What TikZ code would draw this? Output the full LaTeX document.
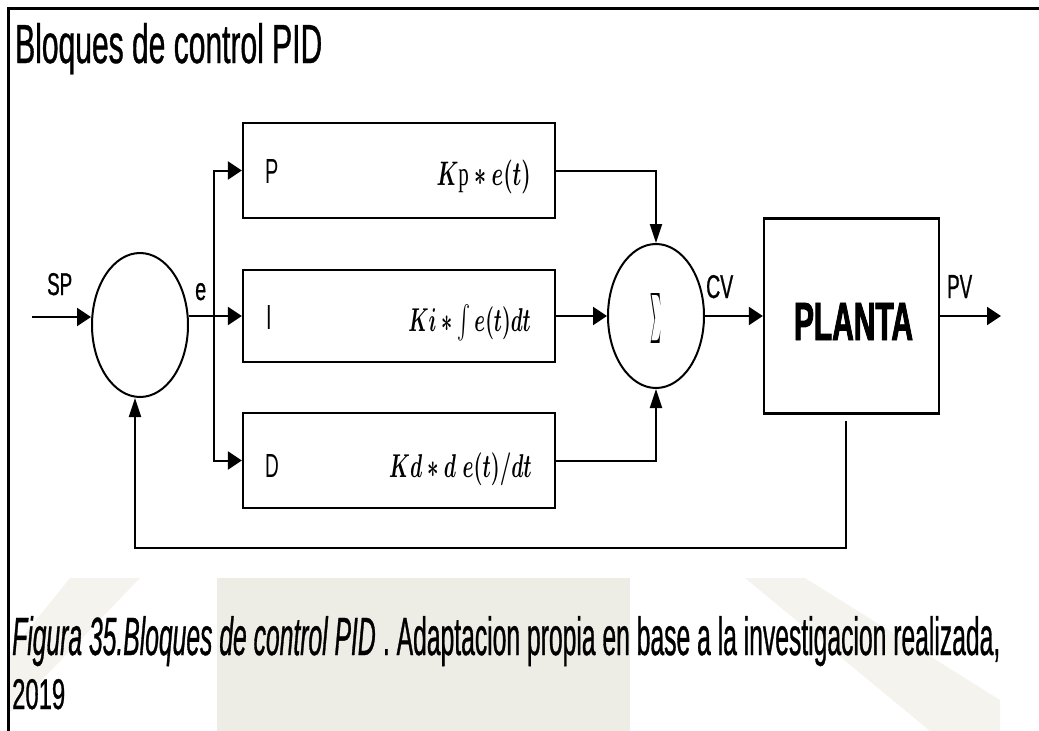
\documentclass[tikz,border=0pt]{standalone}
\usepackage{fontspec}
\setmainfont[FakeStretch=0.57,FakeBold=0.7]{Liberation Sans}
\newfontfamily\thinfont[FakeStretch=0.57]{Liberation Sans}
\newfontfamily\plantafont[UprightFont=* Bold,FakeStretch=0.55,FakeBold=1.6]{Liberation Sans}
\newfontfamily\serifp{Liberation Serif}
\usetikzlibrary{shapes.geometric,arrows.meta}
\definecolor{wm}{RGB}{238,237,229}
\definecolor{wmlight}{RGB}{244,243,238}
\begin{document}
\begin{tikzpicture}[x=1pt,y=-1pt,
  box/.style={draw,line width=2.2pt,minimum width=312pt,inner sep=0pt},
  ell/.style={draw,ellipse,line width=2pt,minimum width=96pt,minimum height=144pt,inner sep=0pt},
  conn/.style={line width=2pt},
  harrow/.style={conn,-{Triangle[length=14pt,width=18pt]}},
  varrow/.style={conn,-{Triangle[length=19pt,width=12pt]}},
  lbl/.style={inner sep=0pt},
  mlbl/.style={inner sep=0pt},
]
\useasboundingbox (0,0) rectangle (1039,731);
% faint watermark in the caption band
\fill[wmlight] (8,655) -- (70,578) -- (140,578) -- (8,715) -- cycle;
\fill[wm] (217,578) rectangle (630,731);
\fill[wmlight] (745,578) -- (805,578) -- (1000,700) -- (1000,731) -- (930,731) -- cycle;
% frame lines
\draw[line width=3pt] (8,731) -- (8,8.5) -- (1039,8.5);
% title
\node[lbl,anchor=base west] (title) at (15,63) {\resizebox{307pt}{40pt}{Bloques de control PID}};
% blocks
\node[ell] (lc) at (140,325) {};
\node[ell] (sum) at (656,316) {};
\node[box,minimum height=95pt] (pbox) at (399,170.5) {};
\node[box,minimum height=92pt] (ibox) at (399,316) {};
\node[box,minimum height=95pt] (dbox) at (399,460.5) {};
\node[box,minimum width=175pt,minimum height=195pt] (planta) at (851.5,316) {};
% texts in blocks
\node[lbl,anchor=base west] (pl) at (265,183) {\resizebox{!}{24pt}{\thinfont P}};
\node[lbl,anchor=base west] (il) at (266,329) {\resizebox{!}{24pt}{\thinfont I}};
\node[lbl,anchor=base west] (dl) at (265,477) {\resizebox{!}{23pt}{\thinfont D}};
\node[mlbl,anchor=base east] (pm) at (531,185) {\scalebox{2.1}[3.4]{\boldmath$K\hbox{\serifp p}\ast e(t)$}};
\node[mlbl,anchor=base east] (im) at (531,331) {\scalebox{1.95}[3.3]{\boldmath$Ki\ast\int e(t)dt$}};
\node[mlbl,anchor=base east] (dm) at (532,477) {\scalebox{2.0}[3.3]{\boldmath$Kd\ast d\;e(t)/dt$}};
\node[mlbl] (sigma) at (656,318) {\resizebox*{11pt}{50pt}{$\sum$}};
\node[lbl,anchor=base] (pt) at (853.5,340) {\resizebox{119pt}{37pt}{\plantafont PLANTA}};
% signal labels
\node[lbl,anchor=base west] (spl) at (47,295) {\resizebox{25pt}{22pt}{SP}};
\node[lbl,anchor=base west] (el) at (195,300) {\resizebox{11pt}{17pt}{e}};
\node[lbl,anchor=base west] (cvl) at (706,298) {\resizebox{27pt}{23pt}{CV}};
\node[lbl,anchor=base west] (pvl) at (947,298) {\resizebox{25pt}{23pt}{PV}};
% connectors
\coordinate (spin) at (32,317);
\coordinate (br) at (214,316);
\coordinate (pvout) at (1001,316);
\coordinate (fb) at (846,421);
\coordinate (fbl) at (135,548);
\draw[harrow] (spin) -- (spin -| lc.west);
\draw[harrow] (ibox.west -| lc.east) -- (ibox.west);
\draw[harrow] (br) |- (pbox.west);
\draw[harrow] (br) |- (dbox.west);
\draw[varrow] (pbox.east) -| (sum.north);
\draw[harrow] (ibox.east) -- (sum.west);
\draw[varrow] (dbox.east) -| (sum.south);
\draw[harrow] (sum.east) -- (planta.west);
\draw[harrow] (planta.east) -- (pvout);
\draw[varrow] (fb) |- (fbl) -- (fbl |- lc.south);
% caption
\node[lbl,anchor=base west] (cap1) at (12,655) {\resizebox{988pt}{39pt}{\textit{Figura 35.Bloques de control PID}\,. Adaptacion propia en base a la investigacion realizada,}};
\node[lbl,anchor=base west] (cap2) at (12,709) {\resizebox{53pt}{30pt}{2019}};
\end{tikzpicture}
\end{document}
